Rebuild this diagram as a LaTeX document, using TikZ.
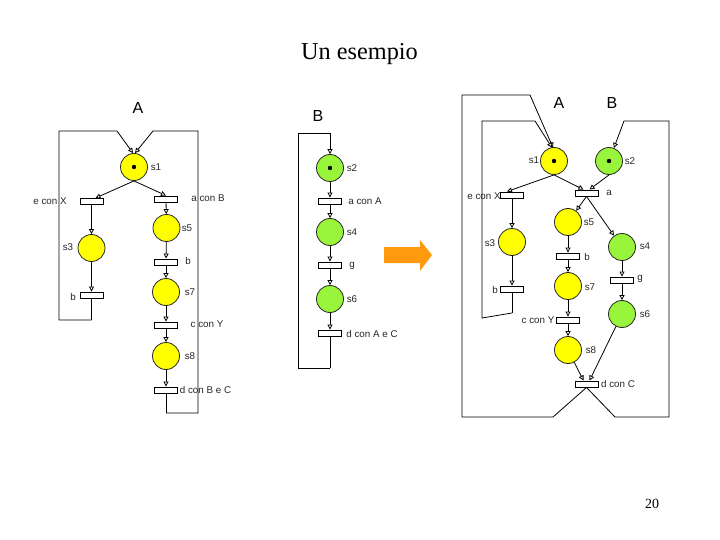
\documentclass[tikz,border=0pt]{standalone}
\usepackage{fontspec}
\setmainfont{Liberation Serif}
\newfontfamily\lblfont{Liberation Sans}
\usetikzlibrary{arrows.meta}
\definecolor{pyellow}{HTML}{FFFF00}
\definecolor{pgreen}{HTML}{99F53C}
\definecolor{porange}{HTML}{FF9A0E}
\tikzset{
  place/.style={circle,draw=black!85,line width=0.8pt,minimum size=27pt,inner sep=0pt},
  ya/.style={place,fill=pyellow},
  gb/.style={place,fill=pgreen},
  trans/.style={rectangle,draw=black,fill=white,line width=0.9pt,minimum width=23pt,minimum height=6pt,inner sep=0pt},
  tok/.style={circle,fill=black,minimum size=4.4pt,inner sep=0pt},
  lbl/.style={font=\lblfont\fontsize{9.8}{10}\selectfont,text=black!85,inner sep=0pt},
  head/.style={font=\lblfont\fontsize{16}{16}\selectfont,inner sep=0pt},
  arc/.style={draw=black,line width=0.8pt,-{Triangle[open,length=5pt,width=5pt,fill=white]}},
  wire/.style={draw=black,line width=0.8pt},
}
\begin{document}
\begin{tikzpicture}[x=1pt,y=-1pt]
\useasboundingbox (0,0) rectangle (720,540);
\node[inner sep=0pt,font=\fontsize{24.3}{26}\selectfont] (title) at (359.5,54) {Un esempio};
\node[inner sep=0pt,font=\fontsize{14}{14}\selectfont] (pg) at (652,504) {20};
% ---------- Net A
\node[head] (hA) at (138,108) {A};
\node[ya] (as1) at (134,167) {}; \node[tok] (at1) at (134,167) {};
\node[trans] (aex) at (91.5,201.5) {};
\node[trans] (aab) at (166,199) {};
\node[ya] (as5) at (166.5,228) {};
\node[ya] (as3) at (91.5,248) {};
\node[trans] (ab1) at (166,262) {};
\node[trans] (ab2) at (91.5,295) {};
\node[ya] (as7) at (166,292) {};
\node[trans] (acy) at (166,325) {};
\node[ya] (as8) at (166,356) {};
\node[trans] (adb) at (166,390) {};
\node[lbl] (l1) at (156,167) {s1};
\node[lbl] (l2) at (50,201) {e con X};
\node[lbl] (l3) at (208,198) {a con B};
\node[lbl] (l4) at (187,228) {s5};
\node[lbl] (l5) at (68,247) {s3};
\node[lbl] (l6) at (188,261) {b};
\node[lbl] (l7) at (73,297) {b};
\node[lbl] (l8) at (190,292) {s7};
\node[lbl] (l9) at (207,324) {c con Y};
\node[lbl] (l10) at (190,356) {s8};
\node[lbl] (l11) at (205.5,390) {d con B e C};
\coordinate (a1) at (117,131); \coordinate (a2) at (59,131); \coordinate (a3) at (59,320); \coordinate (a4) at (91.5,320);
\coordinate (a5) at (153,131); \coordinate (a6) at (198,131); \coordinate (a7) at (198,413); \coordinate (a8) at (166,413);
\draw[arc] (a4) -- (a3) -- (a2) -- (a1) -- ([xshift=-1pt]as1.north);
\draw[wire] (ab2) -- (a4);
\draw[arc] (a8) -- (a7) -- (a6) -- (a5) -- ([xshift=1pt]as1.north);
\draw[wire] (adb) -- (a8);
\draw[arc] (as1.south) -- ([xshift=4pt]aex.north);
\draw[arc] (as1.south) -- (aab.north);
\draw[arc] (aab) -- (as5);
\draw[arc] (aex) -- (as3);
\draw[arc] (as5) -- (ab1);
\draw[arc] (as3) -- (ab2);
\draw[arc] (ab1) -- (as7);
\draw[arc] (as7) -- (acy);
\draw[arc] (acy) -- (as8);
\draw[arc] (as8) -- (adb);
% ---------- Net B
\node[head] (hB) at (318,116) {B};
\node[gb] (bs2) at (330,168) {}; \node[tok] (bt2) at (330,168) {};
\node[trans] (baa) at (330,201) {};
\node[gb] (bs4) at (330,232) {};
\node[trans] (bg) at (330,265) {};
\node[gb] (bs6) at (330,299) {};
\node[trans] (bdc) at (330,333) {};
\node[lbl] (m1) at (352,168) {s2};
\node[lbl] (m2) at (365,201) {a con A};
\node[lbl] (m3) at (352,232) {s4};
\node[lbl] (m4) at (352,265.5) {g};
\node[lbl] (m5) at (352,299) {s6};
\node[lbl] (m6) at (372,334) {d con A e C};
\coordinate (b1) at (330,133); \coordinate (b2) at (298,133); \coordinate (b3) at (298,368); \coordinate (b4) at (330,368);
\draw[arc] (b4) -- (b3) -- (b2) -- (b1) -- (bs2);
\draw[wire] (bdc) -- (b4);
\draw[arc] (bs2) -- (baa);
\draw[arc] (baa) -- (bs4);
\draw[arc] (bs4) -- (bg);
\draw[arc] (bg) -- (bs6);
\draw[arc] (bs6) -- (bdc);
% ---------- Orange arrow
\fill[porange] (384,247) -- (420,247) -- (420,240) -- (432,255) -- (420,271) -- (420,263) -- (384,263) -- cycle;
% ---------- Composed net
\node[head] (cA) at (559,103) {A};
\node[head] (cB) at (612,103) {B};
\node[ya] (cs1) at (554,161) {}; \node[tok] (ct1) at (554,161) {};
\node[gb] (cs2) at (609,161) {}; \node[tok] (ct2) at (609,161) {};
\node[lbl] (n3) at (484,196) {e con X};
\node[trans] (cex) at (512,195) {};
\node[trans] (ca) at (586.5,193) {};
\node[ya] (cs5) at (568,222) {};
\node[ya] (cs3) at (512,242) {};
\node[gb] (cs4) at (622,247) {};
\node[trans] (cb1) at (568,256) {};
\node[trans] (cg) at (622,280) {};
\node[trans] (cb2) at (512,289) {};
\node[ya] (cs7) at (568,286) {};
\node[gb] (cs6) at (622,314) {};
\node[lbl] (n13) at (538,320) {c con Y};
\node[trans] (ccy) at (568,320) {};
\node[ya] (cs8) at (568,350) {};
\node[trans] (cdc) at (586.5,384) {};
\node[lbl] (n1) at (534,160) {s1};
\node[lbl] (n2) at (630,161) {s2};
\node[lbl] (n4) at (609,193) {a};
\node[lbl] (n5) at (589,222) {s5};
\node[lbl] (n6) at (490,243) {s3};
\node[lbl] (n7) at (645,246) {s4};
\node[lbl] (n8) at (587,257) {b};
\node[lbl] (n9) at (640,279) {g};
\node[lbl] (n10) at (495,290) {b};
\node[lbl] (n11) at (590,287) {s7};
\node[lbl] (n12) at (645,314) {s6};
\node[lbl] (n14) at (591,350) {s8};
\node[lbl] (n15) at (618,384) {d con C};
\coordinate (c1) at (530,95); \coordinate (c2) at (462,95); \coordinate (c3) at (462,417); \coordinate (c4) at (553,417);
\coordinate (c5) at (535,121); \coordinate (c6) at (482,121); \coordinate (c7) at (482,318); \coordinate (c8) at (512,313);
\coordinate (c9) at (624,121); \coordinate (c10) at (669,121); \coordinate (c11) at (669,417); \coordinate (c12) at (615,417);
\draw[arc] (cdc.south) -- (c4) -- (c3) -- (c2) -- (c1) -- ([xshift=-1pt,yshift=-0.5pt]cs1.north);
\draw[arc] (c8) -- (c7) -- (c6) -- (c5) -- ([xshift=-2pt,yshift=-0.5pt]cs1.north);
\draw[wire] (cb2) -- (c8);
\draw[arc] (cdc.south) -- (c12) -- (c11) -- (c10) -- (c9) -- (cs2);
\draw[arc] (cs1.south) -- ([xshift=-5pt]cex.north);
\draw[arc] (cs1.south) -- ([xshift=-3pt]ca.north);
\draw[arc] (cs2.south) -- ([xshift=3pt]ca.north);
\draw[arc] (ca.south) -- (cs5);
\draw[arc] (ca.south) -- (cs4);
\draw[arc] (cex) -- (cs3);
\draw[arc] (cs3) -- (cb2);
\draw[arc] (cs5) -- (cb1);
\draw[arc] (cb1) -- (cs7);
\draw[arc] (cs7) -- (ccy);
\draw[arc] (ccy) -- (cs8);
\draw[arc] (cs4) -- (cg);
\draw[arc] (cg) -- (cs6);
\draw[arc] (cs8) -- ([xshift=-3pt]cdc.north);
\draw[arc] (cs6) -- ([xshift=3pt]cdc.north);
\end{tikzpicture}
\end{document}
